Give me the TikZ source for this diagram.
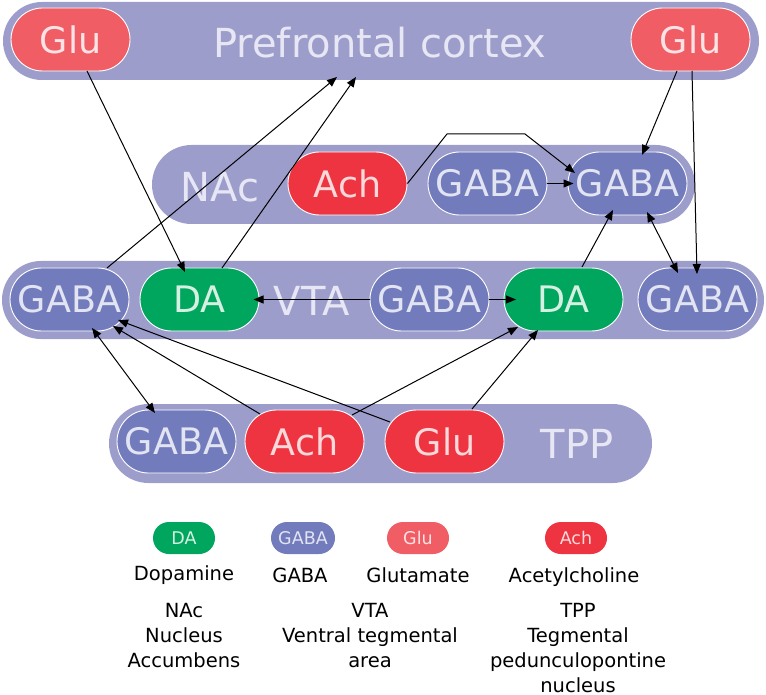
\documentclass[tikz,border=0pt]{standalone}
\usepackage{fontspec}
\setmainfont{DejaVu Sans}
\usetikzlibrary{shapes.misc,arrows.meta}
\definecolor{bandc}{HTML}{9D9DCB}
\definecolor{bandtxt}{HTML}{E6E6F4}
\definecolor{gluc}{HTML}{F05D64}
\definecolor{glutxt}{HTML}{FDE3E5}
\definecolor{achc}{HTML}{EE3440}
\definecolor{achtxt}{HTML}{FBD8DA}
\definecolor{gabac}{HTML}{727CBC}
\definecolor{gabatxt}{HTML}{E2E4F2}
\definecolor{dac}{HTML}{00A65E}
\definecolor{datxt}{HTML}{D5F0E2}
\tikzset{
  band/.style={rounded rectangle, fill=bandc, inner sep=0pt},
  bandlabel/.style={text=bandtxt, inner sep=0pt, font=\fontsize{40}{46}\selectfont},
  pill/.style={rounded rectangle, draw=white, line width=0.9pt, inner sep=0pt,
    minimum width=119pt, minimum height=63pt, font=\fontsize{36.5}{44}\selectfont},
  glupill/.style={pill, fill=gluc, text=glutxt},
  achpill/.style={pill, fill=achc, text=achtxt},
  gabapill/.style={pill, fill=gabac, text=gabatxt},
  dapill/.style={pill, fill=dac, text=datxt},
  legpill/.style={rounded rectangle, inner sep=0pt, minimum width=62pt, minimum height=32pt,
    font=\fontsize{17.5}{20}\selectfont},
  legtext/.style={anchor=base, inner sep=0pt, font=\fontsize{19.5}{24}\selectfont},
  desc/.style={anchor=north, inner sep=0pt, align=center, font=\fontsize{19.5}{25}\selectfont},
  arr/.style={line width=1pt, -{Triangle[length=10pt,width=8pt]}},
  darr/.style={line width=1pt, {Triangle[length=10pt,width=8pt]}-{Triangle[length=10pt,width=8pt]}}
}
\begin{document}
\begin{tikzpicture}[x=1pt,y=-1pt]
\useasboundingbox (0,0) rectangle (766,695);
% bands
\node[band, minimum width=756pt, minimum height=78pt] (pfc) at (381,41) {};
\node[band, minimum width=543pt, minimum height=79pt] (nac) at (423.5,184.5) {};
\node[band, minimum width=762pt, minimum height=78pt] (vta) at (383,300) {};
\node[band, minimum width=543pt, minimum height=79pt] (tpp) at (380.5,443.5) {};
% band labels
\node[bandlabel] (pfclab) at (380,43) {Prefrontal cortex};
\node[bandlabel] (naclab) at (220,187) {NAc};
\node[bandlabel] (vtalab) at (312,301) {VTA};
\node[bandlabel] (tpplab) at (577,444) {TPP};
% pills
\node[glupill] (gluL) at (70.5,39.5) {Glu};
\node[glupill] (gluR) at (690.5,39.5) {Glu};
\node[achpill] (achN) at (347.5,183.5) {Ach};
\node[gabapill] (gabaN1) at (487.5,183.5) {GABA};
\node[gabapill] (gabaN2) at (627.5,183.5) {GABA};
\node[gabapill] (gabaV1) at (69.5,299.5) {GABA};
\node[dapill] (daV1) at (199.5,299.5) {DA};
\node[gabapill] (gabaV2) at (429.5,299.5) {GABA};
\node[dapill] (daV2) at (563.5,299.5) {DA};
\node[gabapill] (gabaV3) at (697.5,299.5) {GABA};
\node[gabapill] (gabaT) at (176.5,441.5) {GABA};
\node[achpill] (achT) at (304.5,441.5) {Ach};
\node[achpill] (gluT) at (444.5,441.5) {Glu};
% waypoints
\coordinate (w1) at (447,134);
\coordinate (w2) at (525,134);
% connectors
\draw[arr] ([shift={(16.5,31.5)}]gluL.center) -- ([shift={(-14.5,-27.5)}]daV1.center);
\draw[arr] ([shift={(37.5,-31.5)}]gabaV1.center) -- ([shift={(-44,36)}]pfc.center);
\draw[arr] ([shift={(22.5,-31.5)}]daV1.center) -- ([shift={(-25,36)}]pfc.center);
\draw[arr] (achN.east) -- (w1) -- (w2) -- ([shift={(-52.5,-10.5)}]gabaN2.center);
\draw[arr] (gabaN1.east) -- ([shift={(-54,0)}]gabaN2.center);
\draw[arr] ([shift={(-13.5,31.5)}]gluR.center) -- ([shift={(14.5,-28.5)}]gabaN2.center);
\draw[arr] ([shift={(1.5,31.5)}]gluR.center) -- ([shift={(-0.5,-25.5)}]gabaV3.center);
\draw[arr] ([shift={(18.5,-32.5)}]daV2.center) -- ([shift={(-14.5,26.5)}]gabaN2.center);
\draw[darr] ([shift={(19.5,28.5)}]gabaN2.center) -- ([shift={(-19.5,-26.5)}]gabaV3.center);
\draw[arr] (gabaV2.west) -- ([shift={(54,0)}]daV1.center);
\draw[arr] (gabaV2.east) -- ([shift={(-47.5,0)}]daV2.center);
\draw[darr] ([shift={(-21.5,-28.5)}]gabaT.center) -- ([shift={(22.5,28.5)}]gabaV1.center);
\draw[arr] ([shift={(-44.5,-27.5)}]achT.center) -- ([shift={(43.5,26.5)}]gabaV1.center);
\draw[arr] ([shift={(-54.5,-19.5)}]gluT.center) -- ([shift={(48.5,20.5)}]gabaV1.center);
\draw[arr] ([shift={(47.5,-26.5)}]achT.center) -- ([shift={(-45.5,27.5)}]daV2.center);
\draw[arr] ([shift={(27.5,-32.5)}]gluT.center) -- ([shift={(-25.5,30.5)}]daV2.center);
% legend
\node[legpill, fill=dac, text=datxt] (lDA) at (184,538) {DA};
\node[legpill, fill=gabac, text=gabatxt, minimum width=64pt] (lGABA) at (303,538) {GABA};
\node[legpill, fill=gluc, text=glutxt] (lGlu) at (418,538) {Glu};
\node[legpill, fill=achc, text=achtxt] (lAch) at (576,538) {Ach};
\node[legtext] (tDA) at (184,580) {Dopamine};
\node[legtext] (tGABA) at (300,582) {GABA};
\node[legtext] (tGlu) at (418,582) {Glutamate};
\node[legtext] (tAch) at (574,582) {Acetylcholine};
\node[desc] (dNAc) at (184,603) {NAc\\Nucleus\\Accumbens};
\node[desc] (dVTA) at (370,603) {VTA\\Ventral tegmental\\area};
\node[desc] (dTPP) at (578,603) {TPP\\Tegmental\\pedunculopontine\\nucleus};
\end{tikzpicture}
\end{document}
